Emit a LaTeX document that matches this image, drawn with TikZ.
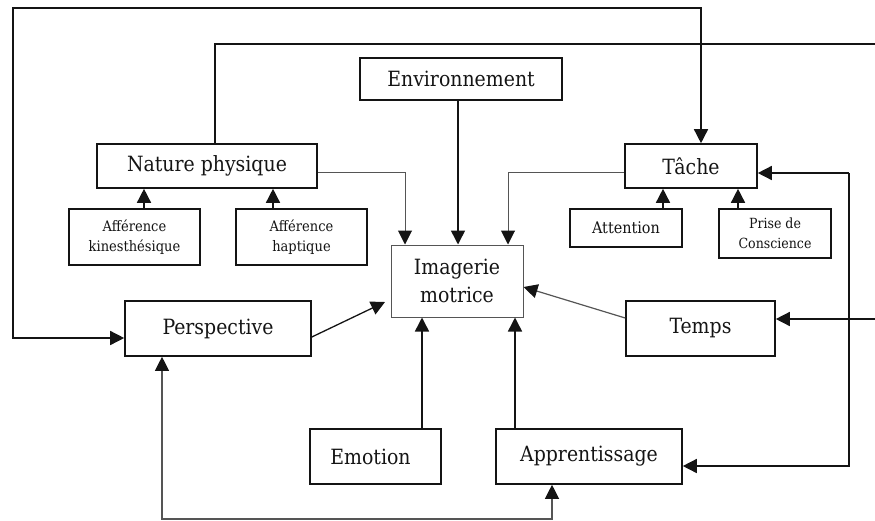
\documentclass[tikz,border=0pt]{standalone}
\usepackage{fontspec}
\setmainfont{DejaVu Serif Condensed}
\usetikzlibrary{arrows.meta}
\definecolor{ink}{HTML}{141414}
\definecolor{thin}{HTML}{555555}
\tikzset{
  x=1pt, y=-1pt,
  box/.style={draw=ink, line width=1.6pt, inner sep=0pt, text=ink, font=\fontsize{21}{25}\selectfont, align=center},
  small/.style={box, font=\fontsize{14.5}{20}\selectfont},
  tip/.tip={Triangle[width=14pt,length=14pt,color=ink]},
  arr/.style={draw=ink, line width=1.5pt, -tip},
  thinarr/.style={draw=thin, line width=1pt, -tip},
}
\begin{document}
\begin{tikzpicture}
\useasboundingbox (0,0) rectangle (875,520);
% boxes
\node[box, minimum width=202pt, minimum height=42pt] (env) at (461,79) {Environnement};
\node[box, minimum width=220pt, minimum height=44pt] (np) at (207,166) {Nature physique};
\node[small, minimum width=131pt, minimum height=56pt] (kin) at (134.5,237) {Afférence\\kinesthésique};
\node[small, minimum width=131pt, minimum height=56pt] (hap) at (301.5,237) {Afférence\\haptique};
\node[box, draw=thin, line width=1pt, minimum width=132pt, minimum height=72pt, font=\fontsize{21}{28}\selectfont] (img) at (457,281) {Imagerie\\motrice};
\node[box, minimum width=132pt, minimum height=44pt] (tache) at (691,166) {Tâche};
\node[small, minimum width=112pt, minimum height=38pt, font=\fontsize{16}{18}\selectfont] (att) at (626,228) {Attention};
\node[small, minimum width=112pt, minimum height=49pt, font=\fontsize{14}{20}\selectfont] (prise) at (775,233.5) {Prise de\\Conscience};
\node[box, minimum width=186pt, minimum height=55pt] (persp) at (218,328.5) {\raisebox{3pt}{Perspective}};
\node[box, minimum width=149pt, minimum height=55pt] (temps) at (700.5,328.5) {Temps};
\node[box, minimum width=131pt, minimum height=55pt] (emo) at (375.5,456.5) {Emotion\hspace{10pt}};
\node[box, minimum width=186pt, minimum height=55pt] (app) at (589,456.5) {Apprentissage};
% coordinates
\coordinate (topL) at (13,8);
\coordinate (topR) at (701,8);
\coordinate (leftB) at (13,338);
\coordinate (npUp) at (215,44);
\coordinate (rEdge1) at (875,44);
\coordinate (rEdge2) at (875,319);
\coordinate (rTop) at (849,173);
\coordinate (rBot) at (849,466);
\coordinate (bL) at (162,519);
\coordinate (bR) at (552,519);
\coordinate (npTurn) at (405,172);
\coordinate (tTurn) at (508,172);
% connectors
\draw[arr] (kin.north -| 144,0) -- (np.south -| 144,0);
\draw[arr] (hap.north -| 273,0) -- (np.south -| 273,0);
\draw[arr] (att.north -| 663,0) -- (tache.south -| 663,0);
\draw[arr] (prise.north -| 738,0) -- (tache.south -| 738,0);
\draw[thinarr] (np.east |- npTurn) -- (npTurn) -- (img.north -| npTurn);
\draw[arr] (env.south -| 458,0) -- (img.north -| 458,0);
\draw[thinarr] (tache.west |- tTurn) -- (tTurn) -- (img.north -| tTurn);
\draw[arr] (rTop) -- (tache.east |- rTop);
\draw[arr] (rTop) -- (rBot) -- (app.east |- rBot);
\draw[arr] (rEdge2) -- (temps.east |- rEdge2);
\draw[thinarr, line width=1.2pt] (temps.west |- 0,318) -- (img.east |- 0,287);
\draw[arr, line width=1.3pt] (persp.east |- 0,337) -- (385,302);
\draw[arr] (emo.north -| 422,0) -- (img.south -| 422,0);
\draw[arr] (app.north -| 515,0) -- (img.south -| 515,0);
\draw[draw=thin, line width=1.2pt, tip-tip] (persp.south -| bL) -- (bL) -- (bR) -- (app.south -| bR);
\draw[draw=ink, line width=1.5pt, tip-tip] (tache.north -| topR) -- (topR) -- (topL) -- (leftB) -- (persp.west |- leftB);
\draw[draw=ink, line width=1.5pt] (np.north -| npUp) -- (npUp) -- (rEdge1);
\end{tikzpicture}
\end{document}
